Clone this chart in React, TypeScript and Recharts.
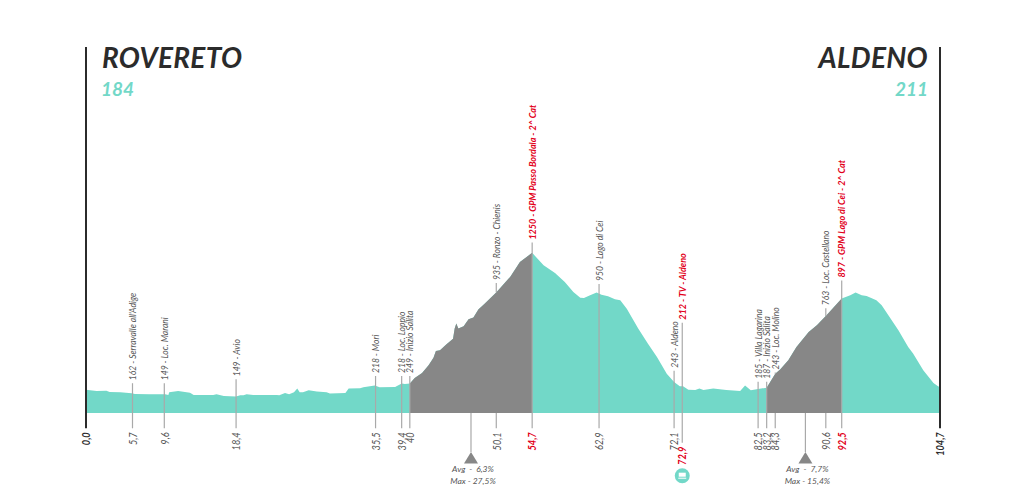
import { Area, ComposedChart, ReferenceDot, ReferenceLine, XAxis, YAxis } from "recharts";

const profileKm = [
  0, 0.5, 1.3, 2.5, 2.9, 4.2, 5.6, 6, 7.8, 9.7, 10.1, 10.2, 11.3, 12.75, 13.2, 15.6, 16, 16.9, 18.4, 18.9, 19.3, 19.7,
  20.5, 23.4, 23.7, 24.4, 24.9, 25.5, 25.9, 26.2, 26.6, 27.3, 28.3, 29.5, 29.9, 31.8, 32.2, 33.6, 34, 35.4, 36, 37.9,
  38.7, 39.1, 39.7, 40.3, 41.2, 42, 42.6, 42.9, 43.4, 44.2, 45, 45.2, 45.4, 45.65, 46.3, 46.9, 47.5, 48.1, 48.9, 50.35,
  52, 53.2, 54.7, 56.1, 57.5, 58.7, 59.75, 60.6, 61.05, 61.8, 62.6, 63.2, 64, 64.85, 65.5, 66.3, 67.7, 68.9, 70, 71.2,
  72.1, 72.8, 73.2, 73.85, 74.7, 75.2, 75.7, 76.9, 78.5, 80.2, 80.8, 81.5, 82.4, 83.45, 84.5, 85.1, 86.1, 87.1, 88.6,
  89.6, 90.7, 92.65, 93.7, 94.35, 95.1, 95.7, 96.9, 97.55, 99.6, 100.8, 101.4, 102.65, 103.9, 104.5, 104.7,
];
const profileElev = [
  206, 201, 196, 198, 188, 186, 178, 173, 170, 170, 165, 186, 196, 183, 165, 165, 170, 158, 153, 163, 163, 170,
  165, 165, 163, 181, 170, 186, 214, 186, 186, 201, 191, 186, 176, 181, 214, 216, 224, 237, 224, 226,
  252, 249, 252, 295, 333, 392, 450, 501, 506, 552, 595, 672, 710, 672, 690, 743, 756, 817, 863, 952,
  1066, 1181, 1250, 1155, 1097, 1028, 952, 908, 906, 926, 947, 931, 919, 896, 888, 824, 672, 557, 455, 328,
  265, 232, 232, 206, 204, 214, 204, 214, 204, 196, 237, 201, 211, 221, 328, 359, 430, 532, 646,
  697, 768, 901, 926, 947, 926, 921, 888, 850, 659, 532, 481, 354, 257, 229, 229,
];
const climbStarts = [39.7, 83.45];
const climbEnds = [54.7, 92.65];

const markKm = [5.7, 9.6, 18.4, 35.5, 38.7, 39.7, 50.3, 54.7, 62.9, 72.1, 73.1, 82.4, 83.45, 84.5, 90.7, 92.65];
const markTop = [255, 255, 285, 310, 310, 310, 1020, 1328, 1013, 351, 717, 267, 267, 336, 827, 1038];
const markKmLabels = ["5,7", "9,6", "18,4", "35,5", "39,4", "40", "50,1", "54,7", "62,9", "72,1", "72,9", "82,5", "83,2", "84,3", "90,6", "92,5"];
const markPlaces = [
  "162 - Serravalle all'Adige",
  "149 - Loc. Marani",
  "149 - Avio",
  "218 - Mori",
  "218 - Loc. Loppio",
  "249 - Inizio Salita",
  "935 - Ronzo - Chienis",
  "1250 - GPM Passo Bordala - 2^ Cat",
  "950 - Lago di Cei",
  "243 - Aldeno",
  "212 - TV - Aldeno",
  "185 - Villa Lagarina",
  "187 - Inizio Salita",
  "243 - Loc. Molino",
  "763 - Loc. Castellano",
  "897 - GPM Lago di Cei - 2^ Cat",
];
const redMarks = ["54,7", "72,9", "92,5"];

const slopeKm = [47.2, 88.2];
const slopeAvg = ["Avg  -  6,3%", "Avg  -  7,7%"];
const slopeMax = ["Max - 27,5%", "Max - 15,4%"];

const TEAL = "#72d8c8";
const GREY = "#878787";
const LINE = "#a9a9a9";
const RED = "#e2001a";
const DARK = "#2b2b2b";
const FONT = "Lato, sans-serif";

const BASE = 28;
const Y_MIN = -560;
const Y_MAX = 2821;
const LINE_BOTTOM = -89;
const FEED_BOTTOM = -199;
const FEED_KM = 73.1;

const table = profileKm.map((km, i) => ({
  km,
  elev: profileElev[i],
  climb: climbStarts.some((s, c) => km >= s && km <= climbEnds[c]) ? profileElev[i] : null,
}));

// height of the profile under a mark, so lines inside a climb can skip the grey part
const surfaceAt = (km: number) => {
  const i = profileKm.findIndex((k) => k >= km);
  if (i <= 0) return profileElev[0];
  const t = (km - profileKm[i - 1]) / (profileKm[i] - profileKm[i - 1]);
  return profileElev[i - 1] + t * (profileElev[i] - profileElev[i - 1]);
};
const insideClimb = (km: number) => climbStarts.some((s, c) => km > s && km < climbEnds[c]);

const topLabel = (text: string, red: boolean) => (p: any) => (
  <text
    transform={`translate(${p.cx} ${p.cy - 3}) rotate(-90) scale(${red ? 0.945 : 0.9} 1)`}
    fontFamily={FONT}
    fontStyle="italic"
    fontWeight={red ? 700 : 400}
    fontSize={9.5}
    fill={red ? RED : "#555"}
    dominantBaseline="central"
  >
    {text}
  </text>
);

const bottomLabel = (text: string, color: string, bold: boolean) => (p: any) => (
  <text
    transform={`translate(${p.cx} ${p.cy + 4}) rotate(-90) scale(0.88 1)`}
    fontFamily={FONT}
    fontStyle="italic"
    fontWeight={bold ? 700 : 400}
    fontSize={10.5}
    fill={color}
    textAnchor="end"
    dominantBaseline="central"
  >
    {text}
  </text>
);

const slopeBadge = (avg: string, max: string) => (p: any) => (
  <g>
    <path d={`M${p.cx} ${p.cy}l7 11.5h-14z`} fill={GREY} />
    <text x={p.cx + 2} y={p.cy + 20} fontFamily={FONT} fontStyle="italic" fontSize={8.5} fill="#555" textAnchor="middle" xmlSpace="preserve">
      {avg}
    </text>
    <text x={p.cx + 2} y={p.cy + 32} fontFamily={FONT} fontStyle="italic" fontSize={8.5} fill="#555" textAnchor="middle">
      {max}
    </text>
  </g>
);

const feedIcon = (p: any) => (
  <g>
    <circle cx={p.cx} cy={p.cy + 33} r={7.5} fill={TEAL} />
    <rect x={p.cx - 3.5} y={p.cy + 30} width={7} height={4} fill="#fff" />
    <rect x={p.cx - 4} y={p.cy + 35} width={8} height={1} fill="#fff" />
  </g>
);

const Title = ({ x, anchor, name, alt }: { x: number; anchor: "start" | "end"; name: string; alt: string }) => (
  <g textAnchor={anchor} fontFamily="Lato, sans-serif" fontStyle="italic">
    <text x={x} y={68} fontSize={28} fontWeight={700} letterSpacing={0.3} fill={DARK}>
      {name}
    </text>
    <text x={x} dx={anchor === "start" ? -1 : 0} y={96} fontSize={19} fontWeight={700} fill={TEAL}>
      {alt}
    </text>
  </g>
);

export default function App() {
  return (
    <div style={{ position: "absolute", left: 0, top: 0, width: 1009, height: 500 }}>
      <ComposedChart
        width={1009}
        height={500}
        data={table}
        margin={{ top: 47, right: 69, bottom: 10, left: 86 }}
      >
        <XAxis dataKey="km" type="number" domain={[0, 104.7]} hide />
        <YAxis type="number" domain={[Y_MIN, Y_MAX]} hide />
        <Area
          dataKey="elev"
          type="linear"
          baseValue={BASE}
          stroke="none"
          fill={TEAL}
          fillOpacity={1}
          isAnimationActive={false}
        />
        <Area
          dataKey="climb"
          type="linear"
          baseValue={BASE}
          stroke="none"
          fill={GREY}
          fillOpacity={1}
          isAnimationActive={false}
        />
        <ReferenceLine segment={[{ x: 0, y: LINE_BOTTOM }, { x: 0, y: Y_MAX }]} stroke={DARK} strokeWidth={2} />
        <ReferenceLine segment={[{ x: 104.7, y: LINE_BOTTOM }, { x: 104.7, y: Y_MAX }]} stroke={DARK} strokeWidth={2} />
        {markKm.map((km, i) => (
          <ReferenceLine
            key={markKmLabels[i]}
            segment={[
              { x: km, y: markKmLabels[i] === "72,9" ? FEED_BOTTOM : LINE_BOTTOM },
              { x: km, y: insideClimb(km) ? BASE : markTop[i] },
            ]}
            stroke={LINE}
            strokeWidth={1.2}
          />
        ))}
        {markKm.map((km, i) =>
          insideClimb(km) ? (
            <ReferenceLine
              key={`over-${markKmLabels[i]}`}
              segment={[
                { x: km, y: surfaceAt(km) },
                { x: km, y: markTop[i] },
              ]}
              stroke={LINE}
              strokeWidth={1.2}
            />
          ) : null,
        )}
        {slopeKm.map((km) => (
          <ReferenceLine key={km} segment={[{ x: km, y: BASE }, { x: km, y: -270 }]} stroke={LINE} strokeWidth={1.2} />
        ))}
        {markKm.map((km, i) => (
          <ReferenceDot
            key={markPlaces[i]}
            x={km}
            y={markTop[i]}
            r={0}
            shape={topLabel(markPlaces[i], redMarks.includes(markKmLabels[i]))}
          />
        ))}
        {markKm.map((km, i) => {
          const red = redMarks.includes(markKmLabels[i]);
          return (
            <ReferenceDot
              key={markKmLabels[i]}
              x={km}
              y={markKmLabels[i] === "72,9" ? FEED_BOTTOM : LINE_BOTTOM}
              r={0}
              shape={bottomLabel(markKmLabels[i], red ? RED : "#555", red)}
            />
          );
        })}
        <ReferenceDot x={0} y={LINE_BOTTOM} r={0} shape={bottomLabel("0,0", DARK, true)} />
        <ReferenceDot x={104.7} y={LINE_BOTTOM} r={0} shape={bottomLabel("104,7", DARK, true)} />
        {slopeKm.map((km, i) => (
          <ReferenceDot key={slopeAvg[i]} x={km} y={-270} r={0} shape={slopeBadge(slopeAvg[i], slopeMax[i])} />
        ))}
        <ReferenceDot x={FEED_KM} y={FEED_BOTTOM} r={0} shape={feedIcon} />
        <Title x={102} anchor="start" name="ROVERETO" alt="184" />
        <Title x={928} anchor="end" name="ALDENO" alt="211" />
      </ComposedChart>
    </div>
  );
}
